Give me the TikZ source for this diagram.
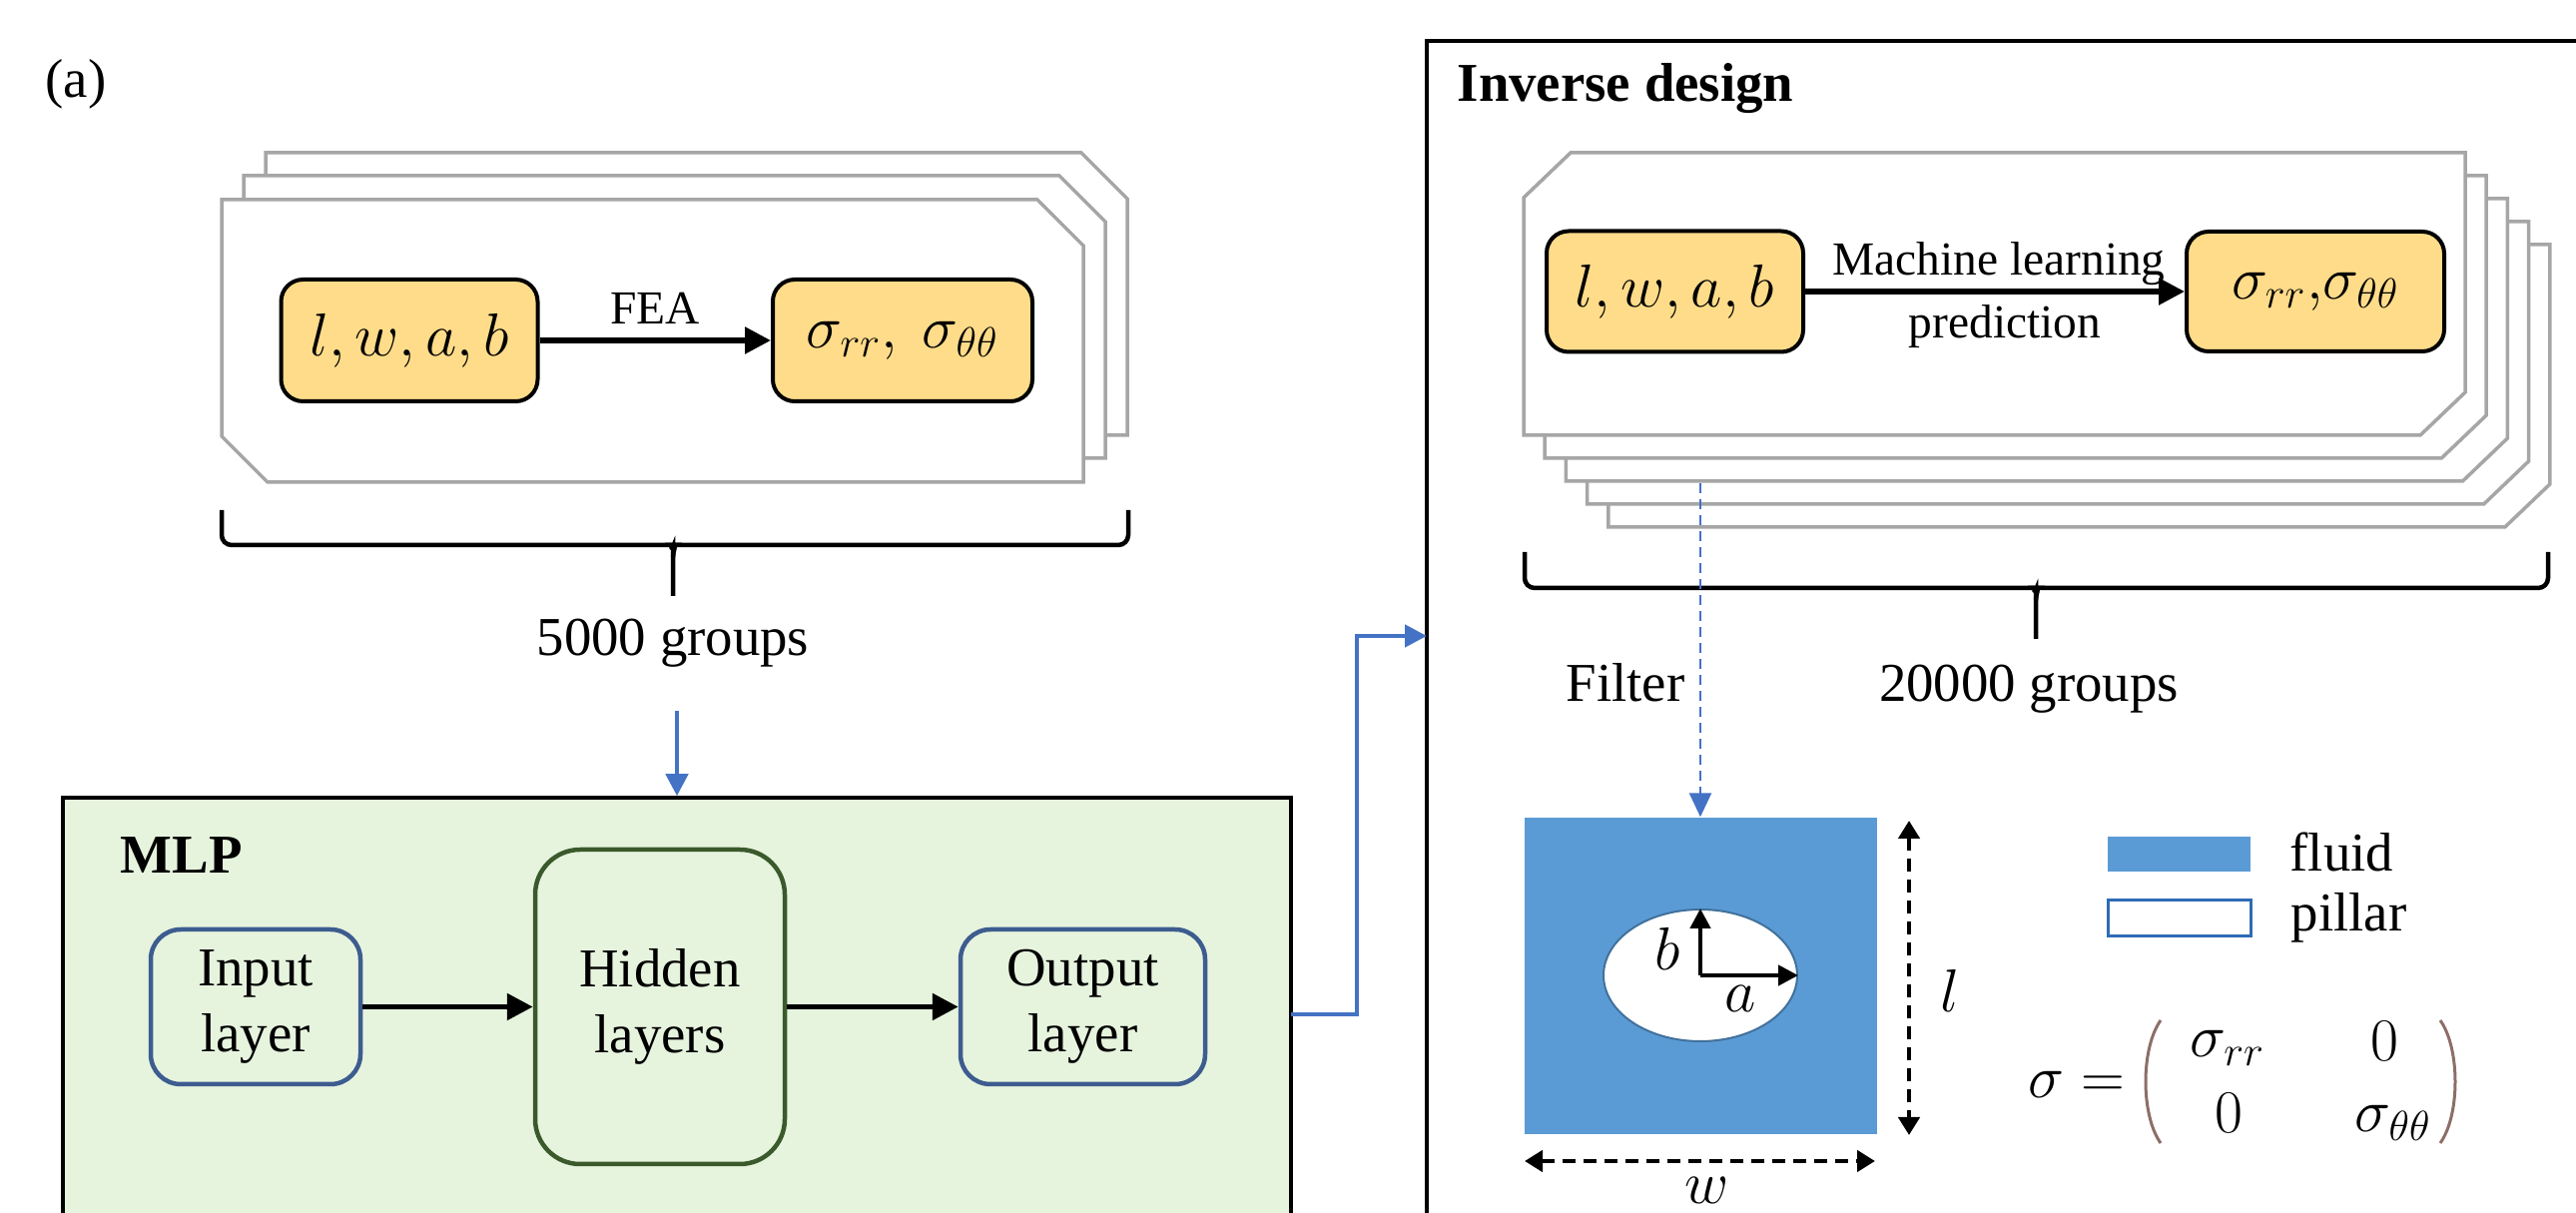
\documentclass[tikz,border=0pt]{standalone}
\usepackage{fontspec}
\setmainfont{Liberation Serif}
\usetikzlibrary{arrows.meta,shapes.geometric}
\definecolor{cardgray}{HTML}{A6A6A6}
\definecolor{yfill}{HTML}{FFDC8A}
\definecolor{mlpfill}{HTML}{E6F4DE}
\definecolor{layblue}{HTML}{3D5C8F}
\definecolor{hidgreen}{HTML}{3B5A2C}
\definecolor{arrblue}{HTML}{4472C4}
\definecolor{fluidblue}{HTML}{5B9BD5}
\definecolor{pillarblue}{HTML}{2E6CB5}
\definecolor{parcol}{HTML}{8C6E68}
\definecolor{holeline}{HTML}{41719C}
\newcommand\cardleft[2]{\draw[card] (#1,#2) -- ++(817,0) -- ++(46,46) -- ++(0,237) -- ++(-817,0) -- ++(-46,-46) -- cycle;}
\newcommand\cardright[2]{\draw[card] (#1,#2) ++(0,45) -- ++(47,-45) -- ++(896,0) -- ++(0,240) -- ++(-45,43) -- ++(-898,0) -- cycle;}
\tikzset{
  card/.style={draw=cardgray, line width=0.35mm, fill=white},
  ybox/.style={draw=black, line width=0.4mm, fill=yfill, rounded corners=2.2mm, inner sep=0pt, font=\fontsize{16.5}{19}\selectfont},
  blk/.style={-{Triangle[length=2.6mm,width=2.6mm]}, line width=0.55mm},
  blksmall/.style={-{Triangle[length=2mm,width=2mm]}, line width=0.45mm},
  txt/.style={font=\fontsize{15.6}{18.7}\selectfont, inner sep=0pt},
  boldtxt/.style={font=\fontsize{15.6}{18.7}\selectfont\bfseries, inner sep=0pt},
  smalltxt/.style={font=\fontsize{13.5}{16}\selectfont, inner sep=0pt},
  mathtxt/.style={font=\fontsize{16.5}{19}\selectfont, inner sep=0pt},
  bluearr/.style={draw=arrblue, line width=0.45mm, -{Triangle[length=2.2mm,width=2.2mm]}, color=arrblue},
  bluedash/.style={draw=arrblue, line width=0.25mm, dash pattern=on 1mm off 0.6mm, -{Triangle[length=2.4mm,width=2.2mm]}, color=arrblue},
  layer/.style={line width=0.45mm, fill=mlpfill, align=center, inner sep=0pt, font=\fontsize{15.6}{18.7}\selectfont},
  bracepath/.style={line width=0.45mm, rounded corners=1mm},
  dimarr/.style={line width=0.45mm, dash pattern=on 1.3mm off 0.8mm, {Triangle[length=1.8mm,width=2.1mm]}-{Triangle[length=1.8mm,width=2.1mm]}},
}
\begin{document}
\begin{tikzpicture}[x=0.1mm,y=-0.1mm]
\useasboundingbox (0,0) rectangle (2580,1215);
\clip (0,0) rectangle (2580,1215);

% ---------- left part ----------
\node[txt] (tag) at (76,84) {(a)};

\cardleft{266}{153}
\cardleft{244}{176}
\cardleft{222}{200}
\node[ybox, minimum width=25.7mm, minimum height=12.2mm] (p1) at (410,341) {$l,w,a,b$};
\node[ybox, minimum width=26mm, minimum height=12.2mm] (s1) at (904,341) {$\sigma_{rr},\ \sigma_{\theta\theta}$};
\draw[blk] (p1) -- (s1) node[midway, above=1.4mm, smalltxt] {FEA};

\draw[bracepath] (222,511) -- (222,546) -- (664,546) to[out=0,in=90] (674,558) -- (674,597);
\draw[bracepath] (674,558) to[out=90,in=180] (684,546) -- (1130,546) -- (1130,511);
\node[txt, anchor=base] (g1) at (674,657) {5000 groups};

\node[draw=black, line width=0.35mm, fill=mlpfill, minimum width=123mm, minimum height=46.1mm, inner sep=0pt] (mlp) at (678,1029.5) {};
\coordinate (g1a) at (678,712);
\draw[bluearr] (g1a) -- (mlp.north);
\node[boldtxt, anchor=base west] (mlplbl) at (120,875) {MLP};

\node[layer, draw=layblue, rounded corners=3mm, minimum width=21mm, minimum height=15.5mm] (inl) at (256,1008.5) {Input\\layer};
\node[layer, draw=hidgreen, rounded corners=4.5mm, minimum width=25mm, minimum height=31.5mm] (hid) at (661,1008.5) {Hidden\\layers};
\node[layer, draw=layblue, rounded corners=3mm, minimum width=24.5mm, minimum height=15.5mm] (outl) at (1084.5,1008.5) {Output\\layer};
\draw[blk] (inl) -- (hid);
\draw[blk] (hid) -- (outl);

% ---------- inverse design ----------
\node[draw=black, line width=0.45mm, minimum width=119.1mm, minimum height=121.9mm, inner sep=0pt] (inv) at (2024.5,650.5) {};
\node[boldtxt, anchor=base west] (invlbl) at (1459,102) {Inverse design};

\coordinate (mlpout) at (1293,1016);
\coordinate (invin) at (1429,637);
\draw[bluearr] (mlpout) -- (1359,1016) |- (invin);

\foreach \i in {4,3,2,1,0} { \cardright{1526+21.2*\i}{153+23*\i} }
\node[ybox, minimum width=25.7mm, minimum height=12.1mm] (p2) at (1677.5,292) {$l,w,a,b$};
\node[ybox, minimum width=25.8mm, minimum height=12.0mm] (s2) at (2319,292) {$\sigma_{rr}{,}\sigma_{\theta\theta}$};
\draw[blk] (p2) -- (s2)
  node[midway, above=0.4mm, smalltxt, xshift=0.4mm] {Machine learning}
  node[midway, below=1.1mm, smalltxt, xshift=1mm] {prediction};

\draw[bracepath] (1527,553) -- (1527,589) -- (2029,589) to[out=0,in=90] (2039,601) -- (2039,640);
\draw[bracepath] (2039,601) to[out=90,in=180] (2049,589) -- (2552,589) -- (2552,553);
\node[txt, anchor=base] (g2) at (2032,703) {20000 groups};
\node[txt, anchor=base east] (filtlbl) at (1688,703) {Filter};

\node[fill=fluidblue, minimum width=35.3mm, minimum height=31.7mm, inner sep=0pt] (cell) at (1703,977.5) {};
\coordinate (filt) at (1703,484);
\draw[bluedash] (filt) -- (cell.north);

\node[draw=holeline, line width=0.2mm, fill=white, ellipse, minimum width=19.4mm, minimum height=13.2mm, inner sep=0pt] (hole) at (1703,977) {};
\draw[blksmall] (hole.center) -- (hole.north);
\draw[blksmall] (hole.center) -- (hole.east);
\node[mathtxt] (blbl) at (1670,950) {$b$};
\node[mathtxt] (albl) at (1743,1000) {$a$};

\coordinate (lt) at (1912,822);
\coordinate (lb) at (1912,1137);
\draw[dimarr] (lt) -- (lb);
\node[mathtxt] (llbl) at (1953,992) {$l$};
\coordinate (wl) at (1527,1163);
\coordinate (wr) at (1878,1163);
\draw[dimarr] (wl) -- (wr);
\node[mathtxt] (wlbl) at (1710,1192) {$w$};

\node[fill=fluidblue, minimum width=14.3mm, minimum height=3.5mm, inner sep=0pt] (legf) at (2182.5,855.5) {};
\node[txt, anchor=base west] (legfl) at (2293,873) {fluid};
\node[draw=pillarblue, line width=0.3mm, fill=white, minimum width=14.3mm, minimum height=3.6mm, inner sep=0pt] (legp) at (2182.5,920) {};
\node[txt, anchor=base west] (legpl) at (2294,933) {pillar};

\node[mathtxt] (sigeq) at (2080,1086) {$\sigma =$};
\draw[parcol, line width=0.3mm] (2164,1022) .. controls (2144,1050) and (2144,1117) .. (2164,1145);
\draw[parcol, line width=0.3mm] (2444,1022) .. controls (2464,1050) and (2464,1117) .. (2444,1145);
\node[mathtxt] (m11) at (2231,1050) {$\sigma_{rr}$};
\node[mathtxt] (m12) at (2388,1043) {$0$};
\node[mathtxt] (m21) at (2232,1115) {$0$};
\node[mathtxt] (m22) at (2397,1125) {$\sigma_{\theta\theta}$};
\end{tikzpicture}
\end{document}
